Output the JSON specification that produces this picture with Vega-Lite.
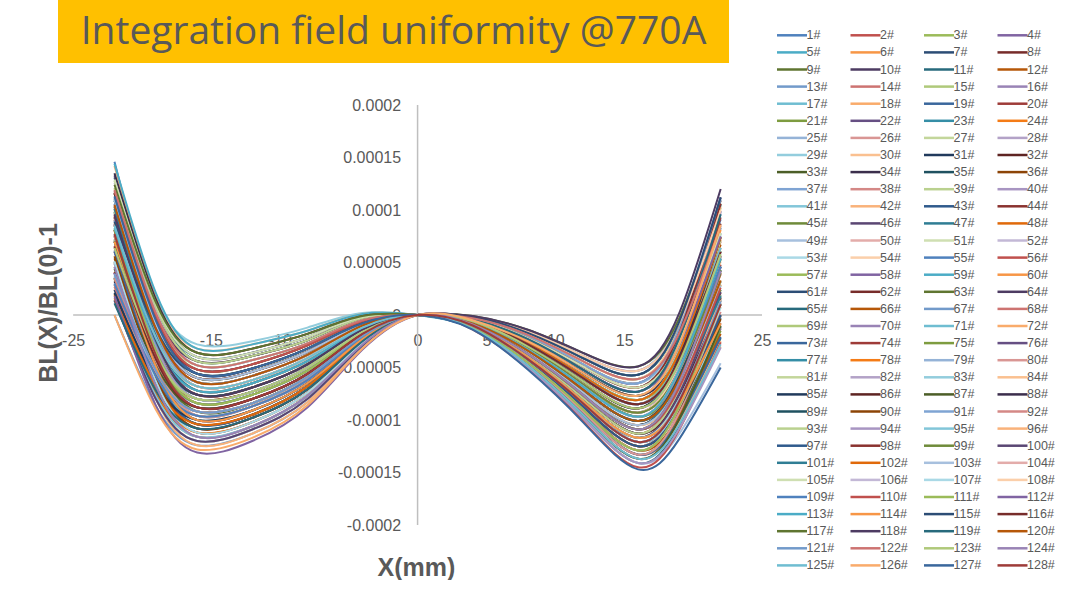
{
"$schema": "https://vega.github.io/schema/vega-lite/v6.json",
"padding": {"left": 36, "top": 0, "right": 0, "bottom": 0},
"background": "white",
"config": {"view": {"stroke": null}, "font": "Liberation Sans"},
"bounds": "flush",
"spacing": 42,
"vconcat": [
{
"width": 671, "height": 63,
"view": {"fill": "#FFC000", "stroke": null},
"data": {"values": [{"t": "Integration field uniformity @770A"}]},
"mark": {"type": "text", "font": "Open Sans", "fontSize": 39, "color": "#595959", "baseline": "middle", "align": "center"},
"encoding": {"text": {"field": "t", "type": "nominal"}}
},
{
"width": 704, "height": 420,
"layer": [
{"data": {"values": [{}]}, "mark": {"type": "rule", "color": "#BFBFBF", "strokeWidth": 1.5}, "encoding": {"x": {"datum": -25, "type": "quantitative"}, "x2": {"datum": 25}, "y": {"datum": 0, "type": "quantitative"}}},
{"data": {"values": [{}]}, "mark": {"type": "rule", "color": "#BFBFBF", "strokeWidth": 1.5}, "encoding": {"x": {"datum": 0, "type": "quantitative"}, "y": {"datum": -0.0002, "type": "quantitative"}, "y2": {"datum": 0.0002}}},
{
"data": {"values": [
{"s":"1#","x":[-22,-19,-16,-12,-8,-4,0,4,8,12,16,19,22],"y":[146e-6,5e-6,-56e-6,-51e-6,-32e-6,-8e-6,0,-3e-6,-19e-6,-44e-6,-61e-6,-15e-6,91e-6]},
{"s":"2#","x":[-22,-19,-16,-12,-8,-4,0,4,8,12,16,19,22],"y":[60e-6,-35e-6,-76e-6,-69e-6,-47e-6,-14e-6,0,-6e-6,-30e-6,-63e-6,-89e-6,-41e-6,70e-6]},
{"s":"3#","x":[-22,-19,-16,-12,-8,-4,0,4,8,12,16,19,22],"y":[46e-6,-59e-6,-104e-6,-95e-6,-68e-6,-24e-6,0,-9e-6,-39e-6,-79e-6,-113e-6,-75e-6,14e-6]},
{"s":"4#","x":[-22,-19,-16,-12,-8,-4,0,4,8,12,16,19,22],"y":[90e-6,-15e-6,-60e-6,-54e-6,-35e-6,-9e-6,0,-13e-6,-48e-6,-95e-6,-137e-6,-100e-6,-13e-6]},
{"s":"5#","x":[-22,-19,-16,-12,-8,-4,0,4,8,12,16,19,22],"y":[77e-6,-41e-6,-92e-6,-84e-6,-59e-6,-20e-6,0,-5e-6,-26e-6,-58e-6,-81e-6,-41e-6,53e-6]},
{"s":"6#","x":[-22,-19,-16,-12,-8,-4,0,4,8,12,16,19,22],"y":[116e-6,4e-6,-44e-6,-39e-6,-24e-6,-3e-6,0,-8e-6,-34e-6,-71e-6,-101e-6,-59e-6,39e-6]},
{"s":"7#","x":[-22,-19,-16,-12,-8,-4,0,4,8,12,16,19,22],"y":[50e-6,-41e-6,-80e-6,-73e-6,-50e-6,-16e-6,0,-11e-6,-43e-6,-87e-6,-125e-6,-83e-6,16e-6]},
{"s":"8#","x":[-22,-19,-16,-12,-8,-4,0,4,8,12,16,19,22],"y":[40e-6,-66e-6,-112e-6,-102e-6,-74e-6,-27e-6,0,-3e-6,-20e-6,-47e-6,-65e-6,-19e-6,87e-6]},
{"s":"9#","x":[-22,-19,-16,-12,-8,-4,0,4,8,12,16,19,22],"y":[103e-6,-17e-6,-68e-6,-62e-6,-41e-6,-12e-6,0,-7e-6,-31e-6,-66e-6,-93e-6,-47e-6,61e-6]},
{"s":"10#","x":[-22,-19,-16,-12,-8,-4,0,4,8,12,16,19,22],"y":[40e-6,-55e-6,-96e-6,-87e-6,-62e-6,-21e-6,0,-9e-6,-39e-6,-79e-6,-113e-6,-79e-6,-1e-6]},
{"s":"11#","x":[-22,-19,-16,-12,-8,-4,0,4,8,12,16,19,22],"y":[109e-6,-4e-6,-52e-6,-47e-6,-29e-6,-6e-6,0,-13e-6,-50e-6,-98e-6,-141e-6,-105e-6,-22e-6]},
{"s":"12#","x":[-22,-19,-16,-12,-8,-4,0,4,8,12,16,19,22],"y":[91e-6,-32e-6,-84e-6,-76e-6,-53e-6,-17e-6,0,-5e-6,-26e-6,-58e-6,-81e-6,-37e-6,67e-6]},
{"s":"13#","x":[-22,-19,-16,-12,-8,-4,0,4,8,12,16,19,22],"y":[0,-87e-6,-124e-6,-113e-6,-83e-6,-31e-6,0,-8e-6,-36e-6,-74e-6,-105e-6,-60e-6,46e-6]},
{"s":"14#","x":[-22,-19,-16,-12,-8,-4,0,4,8,12,16,19,22],"y":[86e-6,-25e-6,-72e-6,-65e-6,-44e-6,-13e-6,0,-11e-6,-43e-6,-87e-6,-125e-6,-91e-6,-12e-6]},
{"s":"15#","x":[-22,-19,-16,-12,-8,-4,0,4,8,12,16,19,22],"y":[35e-6,-62e-6,-104e-6,-95e-6,-68e-6,-24e-6,0,-4e-6,-22e-6,-49e-6,-69e-6,-18e-6,102e-6]},
{"s":"16#","x":[-22,-19,-16,-12,-8,-4,0,4,8,12,16,19,22],"y":[116e-6,-7e-6,-60e-6,-54e-6,-35e-6,-9e-6,0,-7e-6,-31e-6,-66e-6,-93e-6,-51e-6,46e-6]},
{"s":"17#","x":[-22,-19,-16,-12,-8,-4,0,4,8,12,16,19,22],"y":[37e-6,-50e-6,-88e-6,-80e-6,-56e-6,-18e-6,0,-10e-6,-40e-6,-82e-6,-117e-6,-76e-6,19e-6]},
{"s":"18#","x":[-22,-19,-16,-12,-8,-4,0,4,8,12,16,19,22],"y":[142e-6,17e-6,-36e-6,-32e-6,-18e-6,-1e-6,0,-12e-6,-47e-6,-92e-6,-133e-6,-102e-6,-30e-6]},
{"s":"19#","x":[-22,-19,-16,-12,-8,-4,0,4,8,12,16,19,22],"y":[60e-6,-35e-6,-76e-6,-69e-6,-47e-6,-14e-6,0,-6e-6,-28e-6,-60e-6,-85e-6,-40e-6,64e-6]},
{"s":"20#","x":[-22,-19,-16,-12,-8,-4,0,4,8,12,16,19,22],"y":[41e-6,-63e-6,-108e-6,-98e-6,-71e-6,-25e-6,0,-8e-6,-36e-6,-74e-6,-105e-6,-59e-6,48e-6]},
{"s":"21#","x":[-22,-19,-16,-12,-8,-4,0,4,8,12,16,19,22],"y":[85e-6,-19e-6,-64e-6,-58e-6,-38e-6,-10e-6,0,-12e-6,-45e-6,-90e-6,-129e-6,-95e-6,-15e-6]},
{"s":"22#","x":[-22,-19,-16,-12,-8,-4,0,4,8,12,16,19,22],"y":[72e-6,-46e-6,-96e-6,-87e-6,-62e-6,-21e-6,0,-4e-6,-22e-6,-49e-6,-69e-6,-19e-6,99e-6]},
{"s":"23#","x":[-22,-19,-16,-12,-8,-4,0,4,8,12,16,19,22],"y":[111e-6,0,-48e-6,-43e-6,-27e-6,-5e-6,0,-7e-6,-33e-6,-68e-6,-97e-6,-61e-6,24e-6]},
{"s":"24#","x":[-22,-19,-16,-12,-8,-4,0,4,8,12,16,19,22],"y":[50e-6,-41e-6,-80e-6,-73e-6,-50e-6,-16e-6,0,-10e-6,-40e-6,-82e-6,-117e-6,-77e-6,16e-6]},
{"s":"25#","x":[-22,-19,-16,-12,-8,-4,0,4,8,12,16,19,22],"y":[35e-6,-71e-6,-116e-6,-106e-6,-77e-6,-28e-6,0,-2e-6,-16e-6,-39e-6,-53e-6,-4e-6,112e-6]},
{"s":"26#","x":[-22,-19,-16,-12,-8,-4,0,4,8,12,16,19,22],"y":[103e-6,-17e-6,-68e-6,-62e-6,-41e-6,-12e-6,0,-6e-6,-28e-6,-60e-6,-85e-6,-36e-6,78e-6]},
{"s":"27#","x":[-22,-19,-16,-12,-8,-4,0,4,8,12,16,19,22],"y":[34e-6,-60e-6,-100e-6,-91e-6,-65e-6,-23e-6,0,-9e-6,-37e-6,-76e-6,-109e-6,-72e-6,14e-6]},
{"s":"28#","x":[-22,-19,-16,-12,-8,-4,0,4,8,12,16,19,22],"y":[62e-6,-43e-6,-88e-6,-80e-6,-56e-6,-18e-6,0,-12e-6,-47e-6,-92e-6,-133e-6,-93e-6,0]},
{"s":"29#","x":[-22,-19,-16,-12,-8,-4,0,4,8,12,16,19,22],"y":[112e-6,14e-6,-28e-6,-25e-6,-12e-6,2e-6,0,-4e-6,-23e-6,-52e-6,-73e-6,-28e-6,78e-6]},
{"s":"30#","x":[-22,-19,-16,-12,-8,-4,0,4,8,12,16,19,22],"y":[120e-6,14e-6,-32e-6,-28e-6,-15e-6,1e-6,0,-7e-6,-33e-6,-68e-6,-97e-6,-53e-6,51e-6]},
{"s":"31#","x":[-22,-19,-16,-12,-8,-4,0,4,8,12,16,19,22],"y":[81e-6,-29e-6,-76e-6,-69e-6,-47e-6,-14e-6,0,-10e-6,-42e-6,-84e-6,-121e-6,-88e-6,-11e-6]},
{"s":"32#","x":[-22,-19,-16,-12,-8,-4,0,4,8,12,16,19,22],"y":[35e-6,-62e-6,-104e-6,-95e-6,-68e-6,-24e-6,0,-2e-6,-17e-6,-41e-6,-57e-6,-7e-6,109e-6]},
{"s":"33#","x":[-22,-19,-16,-12,-8,-4,0,4,8,12,16,19,22],"y":[116e-6,-7e-6,-60e-6,-54e-6,-35e-6,-9e-6,0,-6e-6,-30e-6,-63e-6,-89e-6,-40e-6,74e-6]},
{"s":"34#","x":[-22,-19,-16,-12,-8,-4,0,4,8,12,16,19,22],"y":[32e-6,-55e-6,-92e-6,-84e-6,-59e-6,-20e-6,0,-9e-6,-37e-6,-76e-6,-109e-6,-71e-6,17e-6]},
{"s":"35#","x":[-22,-19,-16,-12,-8,-4,0,4,8,12,16,19,22],"y":[131e-6,9e-6,-44e-6,-39e-6,-24e-6,-3e-6,0,-12e-6,-47e-6,-92e-6,-133e-6,-94e-6,-3e-6]},
{"s":"36#","x":[-22,-19,-16,-12,-8,-4,0,4,8,12,16,19,22],"y":[54e-6,-40e-6,-80e-6,-73e-6,-50e-6,-16e-6,0,-5e-6,-25e-6,-55e-6,-77e-6,-37e-6,56e-6]},
{"s":"37#","x":[-22,-19,-16,-12,-8,-4,0,4,8,12,16,19,22],"y":[36e-6,-68e-6,-112e-6,-102e-6,-74e-6,-27e-6,0,-8e-6,-34e-6,-71e-6,-101e-6,-58e-6,42e-6]},
{"s":"38#","x":[-22,-19,-16,-12,-8,-4,0,4,8,12,16,19,22],"y":[80e-6,-24e-6,-68e-6,-62e-6,-41e-6,-12e-6,0,-10e-6,-42e-6,-84e-6,-121e-6,-84e-6,3e-6]},
{"s":"39#","x":[-22,-19,-16,-12,-8,-4,0,4,8,12,16,19,22],"y":[72e-6,-46e-6,-96e-6,-87e-6,-62e-6,-21e-6,0,-3e-6,-19e-6,-44e-6,-61e-6,-12e-6,104e-6]},
{"s":"40#","x":[-22,-19,-16,-12,-8,-4,0,4,8,12,16,19,22],"y":[106e-6,-5e-6,-52e-6,-47e-6,-29e-6,-6e-6,0,-6e-6,-30e-6,-63e-6,-89e-6,-49e-6,46e-6]},
{"s":"41#","x":[-22,-19,-16,-12,-8,-4,0,4,8,12,16,19,22],"y":[45e-6,-45e-6,-84e-6,-76e-6,-53e-6,-17e-6,0,-9e-6,-39e-6,-79e-6,-113e-6,-70e-6,32e-6]},
{"s":"42#","x":[-22,-19,-16,-12,-8,-4,0,4,8,12,16,19,22],"y":[24e-6,-80e-6,-124e-6,-113e-6,-83e-6,-31e-6,0,-13e-6,-48e-6,-95e-6,-137e-6,-103e-6,-25e-6]},
{"s":"43#","x":[-22,-19,-16,-12,-8,-4,0,4,8,12,16,19,22],"y":[98e-6,-21e-6,-72e-6,-65e-6,-44e-6,-13e-6,0,-5e-6,-25e-6,-55e-6,-77e-6,-29e-6,83e-6]},
{"s":"44#","x":[-22,-19,-16,-12,-8,-4,0,4,8,12,16,19,22],"y":[29e-6,-64e-6,-104e-6,-95e-6,-68e-6,-24e-6,0,-8e-6,-34e-6,-71e-6,-101e-6,-64e-6,21e-6]},
{"s":"45#","x":[-22,-19,-16,-12,-8,-4,0,4,8,12,16,19,22],"y":[98e-6,-13e-6,-60e-6,-54e-6,-35e-6,-9e-6,0,-11e-6,-43e-6,-87e-6,-125e-6,-88e-6,0]},
{"s":"46#","x":[-22,-19,-16,-12,-8,-4,0,4,8,12,16,19,22],"y":[86e-6,-36e-6,-88e-6,-80e-6,-56e-6,-18e-6,0,-3e-6,-20e-6,-47e-6,-65e-6,-12e-6,112e-6]},
{"s":"47#","x":[-22,-19,-16,-12,-8,-4,0,4,8,12,16,19,22],"y":[109e-6,5e-6,-40e-6,-36e-6,-21e-6,-2e-6,0,-7e-6,-31e-6,-66e-6,-93e-6,-52e-6,43e-6]},
{"s":"48#","x":[-22,-19,-16,-12,-8,-4,0,4,8,12,16,19,22],"y":[81e-6,-29e-6,-76e-6,-69e-6,-47e-6,-14e-6,0,-9e-6,-39e-6,-79e-6,-113e-6,-70e-6,29e-6]},
{"s":"49#","x":[-22,-19,-16,-12,-8,-4,0,4,8,12,16,19,22],"y":[30e-6,-67e-6,-108e-6,-98e-6,-71e-6,-25e-6,0,-13e-6,-50e-6,-98e-6,-141e-6,-113e-6,-46e-6]},
{"s":"50#","x":[-22,-19,-16,-12,-8,-4,0,4,8,12,16,19,22],"y":[111e-6,-12e-6,-64e-6,-58e-6,-38e-6,-10e-6,0,-5e-6,-26e-6,-58e-6,-81e-6,-35e-6,74e-6]},
{"s":"51#","x":[-22,-19,-16,-12,-8,-4,0,4,8,12,16,19,22],"y":[27e-6,-59e-6,-96e-6,-87e-6,-62e-6,-21e-6,0,-8e-6,-36e-6,-74e-6,-105e-6,-65e-6,28e-6]},
{"s":"52#","x":[-22,-19,-16,-12,-8,-4,0,4,8,12,16,19,22],"y":[126e-6,4e-6,-48e-6,-43e-6,-27e-6,-5e-6,0,-11e-6,-43e-6,-87e-6,-125e-6,-83e-6,14e-6]},
{"s":"53#","x":[-22,-19,-16,-12,-8,-4,0,4,8,12,16,19,22],"y":[49e-6,-44e-6,-84e-6,-76e-6,-53e-6,-17e-6,0,-3e-6,-20e-6,-47e-6,-65e-6,-20e-6,84e-6]},
{"s":"54#","x":[-22,-19,-16,-12,-8,-4,0,4,8,12,16,19,22],"y":[25e-6,-77e-6,-120e-6,-109e-6,-80e-6,-29e-6,0,-7e-6,-31e-6,-66e-6,-93e-6,-46e-6,64e-6]},
{"s":"55#","x":[-22,-19,-16,-12,-8,-4,0,4,8,12,16,19,22],"y":[75e-6,-28e-6,-72e-6,-65e-6,-44e-6,-13e-6,0,-9e-6,-39e-6,-79e-6,-113e-6,-75e-6,14e-6]},
{"s":"56#","x":[-22,-19,-16,-12,-8,-4,0,4,8,12,16,19,22],"y":[66e-6,-50e-6,-100e-6,-91e-6,-65e-6,-23e-6,0,-14e-6,-51e-6,-101e-6,-145e-6,-109e-6,-26e-6]},
{"s":"57#","x":[-22,-19,-16,-12,-8,-4,0,4,8,12,16,19,22],"y":[101e-6,-9e-6,-56e-6,-51e-6,-32e-6,-8e-6,0,-5e-6,-26e-6,-58e-6,-81e-6,-41e-6,53e-6]},
{"s":"58#","x":[-22,-19,-16,-12,-8,-4,0,4,8,12,16,19,22],"y":[40e-6,-50e-6,-88e-6,-80e-6,-56e-6,-18e-6,0,-8e-6,-36e-6,-74e-6,-105e-6,-64e-6,32e-6]},
{"s":"59#","x":[-22,-19,-16,-12,-8,-4,0,4,8,12,16,19,22],"y":[144e-6,21e-6,-32e-6,-28e-6,-15e-6,1e-6,0,-12e-6,-45e-6,-90e-6,-129e-6,-87e-6,10e-6]},
{"s":"60#","x":[-22,-19,-16,-12,-8,-4,0,4,8,12,16,19,22],"y":[93e-6,-25e-6,-76e-6,-69e-6,-47e-6,-14e-6,0,-4e-6,-22e-6,-49e-6,-69e-6,-24e-6,81e-6]},
{"s":"61#","x":[-22,-19,-16,-12,-8,-4,0,4,8,12,16,19,22],"y":[24e-6,-68e-6,-108e-6,-98e-6,-71e-6,-25e-6,0,-7e-6,-33e-6,-68e-6,-97e-6,-52e-6,54e-6]},
{"s":"62#","x":[-22,-19,-16,-12,-8,-4,0,4,8,12,16,19,22],"y":[93e-6,-17e-6,-64e-6,-58e-6,-38e-6,-10e-6,0,-10e-6,-40e-6,-82e-6,-117e-6,-84e-6,-8e-6]},
{"s":"63#","x":[-22,-19,-16,-12,-8,-4,0,4,8,12,16,19,22],"y":[81e-6,-40e-6,-92e-6,-84e-6,-59e-6,-20e-6,0,-1e-6,-14e-6,-36e-6,-49e-6,-3e-6,106e-6]},
{"s":"64#","x":[-22,-19,-16,-12,-8,-4,0,4,8,12,16,19,22],"y":[104e-6,0,-44e-6,-39e-6,-24e-6,-3e-6,0,-6e-6,-28e-6,-60e-6,-85e-6,-42e-6,60e-6]},
{"s":"65#","x":[-22,-19,-16,-12,-8,-4,0,4,8,12,16,19,22],"y":[75e-6,-34e-6,-80e-6,-73e-6,-50e-6,-16e-6,0,-8e-6,-36e-6,-74e-6,-105e-6,-60e-6,46e-6]},
{"s":"66#","x":[-22,-19,-16,-12,-8,-4,0,4,8,12,16,19,22],"y":[20e-6,-75e-6,-116e-6,-106e-6,-77e-6,-28e-6,0,-12e-6,-45e-6,-90e-6,-129e-6,-96e-6,-18e-6]},
{"s":"67#","x":[-22,-19,-16,-12,-8,-4,0,4,8,12,16,19,22],"y":[106e-6,-16e-6,-68e-6,-62e-6,-41e-6,-12e-6,0,-4e-6,-23e-6,-52e-6,-73e-6,-22e-6,96e-6]},
{"s":"68#","x":[-22,-19,-16,-12,-8,-4,0,4,8,12,16,19,22],"y":[27e-6,-59e-6,-96e-6,-87e-6,-62e-6,-21e-6,0,-7e-6,-33e-6,-68e-6,-97e-6,-56e-6,39e-6]},
{"s":"69#","x":[-22,-19,-16,-12,-8,-4,0,4,8,12,16,19,22],"y":[121e-6,0,-52e-6,-47e-6,-29e-6,-6e-6,0,-10e-6,-40e-6,-82e-6,-117e-6,-76e-6,19e-6]},
{"s":"70#","x":[-22,-19,-16,-12,-8,-4,0,4,8,12,16,19,22],"y":[49e-6,-44e-6,-84e-6,-76e-6,-53e-6,-17e-6,0,-2e-6,-16e-6,-39e-6,-53e-6,-8e-6,98e-6]},
{"s":"71#","x":[-22,-19,-16,-12,-8,-4,0,4,8,12,16,19,22],"y":[51e-6,-55e-6,-100e-6,-91e-6,-65e-6,-23e-6,0,-6e-6,-28e-6,-60e-6,-85e-6,-40e-6,64e-6]},
{"s":"72#","x":[-22,-19,-16,-12,-8,-4,0,4,8,12,16,19,22],"y":[75e-6,-28e-6,-72e-6,-65e-6,-44e-6,-13e-6,0,-9e-6,-37e-6,-76e-6,-109e-6,-64e-6,42e-6]},
{"s":"73#","x":[-22,-19,-16,-12,-8,-4,0,4,8,12,16,19,22],"y":[61e-6,-55e-6,-104e-6,-95e-6,-68e-6,-24e-6,0,-12e-6,-47e-6,-92e-6,-133e-6,-99e-6,-21e-6]},
{"s":"74#","x":[-22,-19,-16,-12,-8,-4,0,4,8,12,16,19,22],"y":[95e-6,-14e-6,-60e-6,-54e-6,-35e-6,-9e-6,0,-4e-6,-23e-6,-52e-6,-73e-6,-23e-6,93e-6]},
{"s":"75#","x":[-22,-19,-16,-12,-8,-4,0,4,8,12,16,19,22],"y":[35e-6,-54e-6,-92e-6,-84e-6,-59e-6,-20e-6,0,-7e-6,-33e-6,-68e-6,-97e-6,-61e-6,24e-6]},
{"s":"76#","x":[-22,-19,-16,-12,-8,-4,0,4,8,12,16,19,22],"y":[133e-6,12e-6,-40e-6,-36e-6,-21e-6,-2e-6,0,-10e-6,-42e-6,-84e-6,-121e-6,-82e-6,10e-6]},
{"s":"77#","x":[-22,-19,-16,-12,-8,-4,0,4,8,12,16,19,22],"y":[87e-6,-30e-6,-80e-6,-73e-6,-50e-6,-16e-6,0,-2e-6,-17e-6,-41e-6,-57e-6,-8e-6,105e-6]},
{"s":"78#","x":[-22,-19,-16,-12,-8,-4,0,4,8,12,16,19,22],"y":[19e-6,-73e-6,-112e-6,-102e-6,-74e-6,-27e-6,0,-6e-6,-30e-6,-63e-6,-89e-6,-41e-6,72e-6]},
{"s":"79#","x":[-22,-19,-16,-12,-8,-4,0,4,8,12,16,19,22],"y":[93e-6,-17e-6,-64e-6,-58e-6,-38e-6,-10e-6,0,-9e-6,-37e-6,-76e-6,-109e-6,-72e-6,14e-6]},
{"s":"80#","x":[-22,-19,-16,-12,-8,-4,0,4,8,12,16,19,22],"y":[76e-6,-44e-6,-96e-6,-87e-6,-62e-6,-21e-6,0,-12e-6,-47e-6,-92e-6,-133e-6,-93e-6,0]},
{"s":"81#","x":[-22,-19,-16,-12,-8,-4,0,4,8,12,16,19,22],"y":[99e-6,-4e-6,-48e-6,-43e-6,-27e-6,-5e-6,0,-5e-6,-25e-6,-55e-6,-77e-6,-33e-6,71e-6]},
{"s":"82#","x":[-22,-19,-16,-12,-8,-4,0,4,8,12,16,19,22],"y":[70e-6,-38e-6,-84e-6,-76e-6,-53e-6,-17e-6,0,-8e-6,-34e-6,-71e-6,-101e-6,-57e-6,45e-6]},
{"s":"83#","x":[-22,-19,-16,-12,-8,-4,0,4,8,12,16,19,22],"y":[14e-6,-80e-6,-120e-6,-109e-6,-80e-6,-29e-6,0,-10e-6,-42e-6,-84e-6,-121e-6,-88e-6,-11e-6]},
{"s":"84#","x":[-22,-19,-16,-12,-8,-4,0,4,8,12,16,19,22],"y":[101e-6,-20e-6,-72e-6,-65e-6,-44e-6,-13e-6,0,-3e-6,-19e-6,-44e-6,-61e-6,-12e-6,103e-6]},
{"s":"85#","x":[-22,-19,-16,-12,-8,-4,0,4,8,12,16,19,22],"y":[21e-6,-64e-6,-100e-6,-91e-6,-65e-6,-23e-6,0,-6e-6,-30e-6,-63e-6,-89e-6,-40e-6,74e-6]},
{"s":"86#","x":[-22,-19,-16,-12,-8,-4,0,4,8,12,16,19,22],"y":[116e-6,-4e-6,-56e-6,-51e-6,-32e-6,-8e-6,0,-9e-6,-39e-6,-79e-6,-113e-6,-76e-6,11e-6]},
{"s":"87#","x":[-22,-19,-16,-12,-8,-4,0,4,8,12,16,19,22],"y":[44e-6,-48e-6,-88e-6,-80e-6,-56e-6,-18e-6,0,-13e-6,-48e-6,-95e-6,-137e-6,-99e-6,-10e-6]},
{"s":"88#","x":[-22,-19,-16,-12,-8,-4,0,4,8,12,16,19,22],"y":[135e-6,15e-6,-36e-6,-32e-6,-18e-6,-1e-6,0,-5e-6,-25e-6,-55e-6,-77e-6,-37e-6,56e-6]},
{"s":"89#","x":[-22,-19,-16,-12,-8,-4,0,4,8,12,16,19,22],"y":[70e-6,-32e-6,-76e-6,-69e-6,-47e-6,-14e-6,0,-8e-6,-34e-6,-71e-6,-101e-6,-58e-6,42e-6]},
{"s":"90#","x":[-22,-19,-16,-12,-8,-4,0,4,8,12,16,19,22],"y":[56e-6,-59e-6,-108e-6,-98e-6,-71e-6,-25e-6,0,-11e-6,-43e-6,-87e-6,-125e-6,-89e-6,-4e-6]},
{"s":"91#","x":[-22,-19,-16,-12,-8,-4,0,4,8,12,16,19,22],"y":[90e-6,-18e-6,-64e-6,-58e-6,-38e-6,-10e-6,0,-3e-6,-20e-6,-47e-6,-65e-6,-13e-6,110e-6]},
{"s":"92#","x":[-22,-19,-16,-12,-8,-4,0,4,8,12,16,19,22],"y":[35e-6,-54e-6,-92e-6,-84e-6,-59e-6,-20e-6,0,-7e-6,-31e-6,-66e-6,-93e-6,-53e-6,40e-6]},
{"s":"93#","x":[-22,-19,-16,-12,-8,-4,0,4,8,12,16,19,22],"y":[128e-6,8e-6,-44e-6,-39e-6,-24e-6,-3e-6,0,-9e-6,-39e-6,-79e-6,-113e-6,-70e-6,32e-6]},
{"s":"94#","x":[-22,-19,-16,-12,-8,-4,0,4,8,12,16,19,22],"y":[87e-6,-30e-6,-80e-6,-73e-6,-50e-6,-16e-6,0,-13e-6,-50e-6,-98e-6,-141e-6,-108e-6,-31e-6]},
{"s":"95#","x":[-22,-19,-16,-12,-8,-4,0,4,8,12,16,19,22],"y":[14e-6,-77e-6,-116e-6,-106e-6,-77e-6,-28e-6,0,-5e-6,-26e-6,-58e-6,-81e-6,-34e-6,77e-6]},
{"s":"96#","x":[-22,-19,-16,-12,-8,-4,0,4,8,12,16,19,22],"y":[88e-6,-21e-6,-68e-6,-62e-6,-41e-6,-12e-6,0,-8e-6,-36e-6,-74e-6,-105e-6,-69e-6,14e-6]},
{"s":"97#","x":[-22,-19,-16,-12,-8,-4,0,4,8,12,16,19,22],"y":[70e-6,-49e-6,-100e-6,-91e-6,-65e-6,-23e-6,0,-11e-6,-43e-6,-87e-6,-125e-6,-88e-6,0]},
{"s":"98#","x":[-22,-19,-16,-12,-8,-4,0,4,8,12,16,19,22],"y":[94e-6,-8e-6,-52e-6,-47e-6,-29e-6,-6e-6,0,-4e-6,-22e-6,-49e-6,-69e-6,-17e-6,106e-6]},
{"s":"99#","x":[-22,-19,-16,-12,-8,-4,0,4,8,12,16,19,22],"y":[70e-6,-38e-6,-84e-6,-76e-6,-53e-6,-17e-6,0,-7e-6,-31e-6,-66e-6,-93e-6,-52e-6,43e-6]},
{"s":"100#","x":[-22,-19,-16,-12,-8,-4,0,4,8,12,16,19,22],"y":[14e-6,-80e-6,-120e-6,-109e-6,-80e-6,-29e-6,0,-10e-6,-40e-6,-82e-6,-117e-6,-75e-6,22e-6]},
{"s":"101#","x":[-22,-19,-16,-12,-8,-4,0,4,8,12,16,19,22],"y":[101e-6,-20e-6,-72e-6,-65e-6,-44e-6,-13e-6,0,-8e-6,-34e-6,-71e-6,-101e-6,-65e-6,18e-6]},
{"s":"102#","x":[-22,-19,-16,-12,-8,-4,0,4,8,12,16,19,22],"y":[16e-6,-68e-6,-104e-6,-95e-6,-68e-6,-24e-6,0,-5e-6,-26e-6,-58e-6,-81e-6,-35e-6,74e-6]},
{"s":"103#","x":[-22,-19,-16,-12,-8,-4,0,4,8,12,16,19,22],"y":[110e-6,-9e-6,-60e-6,-54e-6,-35e-6,-9e-6,0,-8e-6,-36e-6,-74e-6,-105e-6,-65e-6,28e-6]},
{"s":"104#","x":[-22,-19,-16,-12,-8,-4,0,4,8,12,16,19,22],"y":[39e-6,-53e-6,-92e-6,-84e-6,-59e-6,-20e-6,0,-12e-6,-45e-6,-90e-6,-129e-6,-88e-6,8e-6]},
{"s":"105#","x":[-22,-19,-16,-12,-8,-4,0,4,8,12,16,19,22],"y":[129e-6,11e-6,-40e-6,-36e-6,-21e-6,-2e-6,0,-4e-6,-22e-6,-49e-6,-69e-6,-25e-6,78e-6]},
{"s":"106#","x":[-22,-19,-16,-12,-8,-4,0,4,8,12,16,19,22],"y":[64e-6,-37e-6,-80e-6,-73e-6,-50e-6,-16e-6,0,-7e-6,-33e-6,-68e-6,-97e-6,-51e-6,57e-6]},
{"s":"107#","x":[-22,-19,-16,-12,-8,-4,0,4,8,12,16,19,22],"y":[51e-6,-63e-6,-112e-6,-102e-6,-74e-6,-27e-6,0,-10e-6,-40e-6,-82e-6,-117e-6,-80e-6,7e-6]},
{"s":"108#","x":[-22,-19,-16,-12,-8,-4,0,4,8,12,16,19,22],"y":[85e-6,-22e-6,-68e-6,-62e-6,-41e-6,-12e-6,0,-2e-6,-16e-6,-39e-6,-53e-6,-7e-6,100e-6]},
{"s":"109#","x":[-22,-19,-16,-12,-8,-4,0,4,8,12,16,19,22],"y":[30e-6,-58e-6,-96e-6,-87e-6,-62e-6,-21e-6,0,-6e-6,-28e-6,-60e-6,-85e-6,-46e-6,46e-6]},
{"s":"110#","x":[-22,-19,-16,-12,-8,-4,0,4,8,12,16,19,22],"y":[118e-6,-1e-6,-52e-6,-47e-6,-29e-6,-6e-6,0,-9e-6,-37e-6,-76e-6,-109e-6,-69e-6,26e-6]},
{"s":"111#","x":[-22,-19,-16,-12,-8,-4,0,4,8,12,16,19,22],"y":[82e-6,-34e-6,-84e-6,-76e-6,-53e-6,-17e-6,0,-12e-6,-45e-6,-90e-6,-129e-6,-87e-6,10e-6]},
{"s":"112#","x":[-22,-19,-16,-12,-8,-4,0,4,8,12,16,19,22],"y":[18e-6,-86e-6,-131e-6,-120e-6,-88e-6,-33e-6,0,-4e-6,-23e-6,-52e-6,-73e-6,-29e-6,75e-6]},
{"s":"113#","x":[-22,-19,-16,-12,-8,-4,0,4,8,12,16,19,22],"y":[83e-6,-26e-6,-72e-6,-65e-6,-44e-6,-13e-6,0,-7e-6,-33e-6,-68e-6,-97e-6,-52e-6,54e-6]},
{"s":"114#","x":[-22,-19,-16,-12,-8,-4,0,4,8,12,16,19,22],"y":[70e-6,-49e-6,-100e-6,-91e-6,-65e-6,-23e-6,0,-10e-6,-40e-6,-82e-6,-117e-6,-84e-6,-8e-6]},
{"s":"115#","x":[-22,-19,-16,-12,-8,-4,0,4,8,12,16,19,22],"y":[89e-6,-13e-6,-56e-6,-51e-6,-32e-6,-8e-6,0,-2e-6,-17e-6,-41e-6,-57e-6,-6e-6,112e-6]},
{"s":"116#","x":[-22,-19,-16,-12,-8,-4,0,4,8,12,16,19,22],"y":[65e-6,-42e-6,-88e-6,-80e-6,-56e-6,-18e-6,0,-6e-6,-28e-6,-60e-6,-85e-6,-42e-6,60e-6]},
{"s":"117#","x":[-22,-19,-16,-12,-8,-4,0,4,8,12,16,19,22],"y":[124e-6,12e-6,-36e-6,-32e-6,-18e-6,-1e-6,0,-9e-6,-37e-6,-76e-6,-109e-6,-64e-6,40e-6]},
{"s":"118#","x":[-22,-19,-16,-12,-8,-4,0,4,8,12,16,19,22],"y":[96e-6,-24e-6,-76e-6,-69e-6,-47e-6,-14e-6,0,-1e-6,-14e-6,-36e-6,-49e-6,2e-6,120e-6]},
{"s":"119#","x":[-22,-19,-16,-12,-8,-4,0,4,8,12,16,19,22],"y":[11e-6,-72e-6,-108e-6,-98e-6,-71e-6,-25e-6,0,-4e-6,-23e-6,-52e-6,-73e-6,-22e-6,96e-6]},
{"s":"120#","x":[-22,-19,-16,-12,-8,-4,0,4,8,12,16,19,22],"y":[105e-6,-13e-6,-64e-6,-58e-6,-38e-6,-10e-6,0,-8e-6,-34e-6,-71e-6,-101e-6,-61e-6,33e-6]},
{"s":"121#","x":[-22,-19,-16,-12,-8,-4,0,4,8,12,16,19,22],"y":[39e-6,-53e-6,-92e-6,-84e-6,-59e-6,-20e-6,0,-10e-6,-42e-6,-84e-6,-121e-6,-81e-6,13e-6]},
{"s":"122#","x":[-22,-19,-16,-12,-8,-4,0,4,8,12,16,19,22],"y":[119e-6,2e-6,-48e-6,-43e-6,-27e-6,-5e-6,0,-3e-6,-19e-6,-44e-6,-61e-6,-17e-6,85e-6]},
{"s":"123#","x":[-22,-19,-16,-12,-8,-4,0,4,8,12,16,19,22],"y":[64e-6,-37e-6,-80e-6,-73e-6,-50e-6,-16e-6,0,-6e-6,-30e-6,-63e-6,-89e-6,-45e-6,58e-6]},
{"s":"124#","x":[-22,-19,-16,-12,-8,-4,0,4,8,12,16,19,22],"y":[46e-6,-67e-6,-116e-6,-106e-6,-77e-6,-28e-6,0,-9e-6,-37e-6,-76e-6,-109e-6,-64e-6,42e-6]},
{"s":"125#","x":[-22,-19,-16,-12,-8,-4,0,4,8,12,16,19,22],"y":[85e-6,-22e-6,-68e-6,-62e-6,-41e-6,-12e-6,0,-13e-6,-48e-6,-95e-6,-137e-6,-104e-6,-28e-6]},
{"s":"126#","x":[-22,-19,-16,-12,-8,-4,0,4,8,12,16,19,22],"y":[0,-90e-6,-128e-6,-117e-6,-86e-6,-32e-6,0,-5e-6,-25e-6,-55e-6,-77e-6,-28e-6,86e-6]},
{"s":"127#","x":[-22,-19,-16,-12,-8,-4,0,4,8,12,16,19,22],"y":[113e-6,-5e-6,-56e-6,-51e-6,-32e-6,-8e-6,0,-14e-6,-52e-6,-102e-6,-147e-6,-118e-6,-50e-6]},
{"s":"128#","x":[-22,-19,-16,-12,-8,-4,0,4,8,12,16,19,22],"y":[77e-6,-38e-6,-88e-6,-80e-6,-56e-6,-18e-6,0,-10e-6,-42e-6,-84e-6,-121e-6,-82e-6,10e-6]}
]},
"transform": [{"flatten": ["x", "y"]}],
"mark": {"type": "line", "interpolate": "natural", "strokeWidth": 2},
"encoding": {
"x": {"field": "x", "type": "quantitative", "scale": {"domain": [-26.1, 25], "nice": false, "zero": false},
 "axis": {"values": [-25,-20,-15,-10,-5,0,5,10,15,20,25], "offset": -210, "domain": false, "ticks": false, "tickSize": 0, "grid": false, "labelExpr": "'' + datum.value", "labelFont": "Liberation Sans", "labelFontSize": 16, "labelColor": "#595959", "labelPadding": 17, "labelFlush": false, "labelOverlap": false, "labelBaseline": "top", "title": "X(mm)", "titleFont": "Liberation Sans", "titleFontSize": 25, "titleFontWeight": "bold", "titleColor": "#595959", "titleX": 358, "titleY": 252, "titleBaseline": "middle", "titleAlign": "center"}},
"y": {"field": "y", "type": "quantitative", "scale": {"domain": [-0.0002, 0.0002], "nice": false, "zero": false},
 "axis": {"values": [-0.0002,-0.00015,-0.0001,-0.00005,0,0.00005,0.0001,0.00015,0.0002], "offset": -359.6, "domain": false, "ticks": false, "tickSize": 0, "grid": false, "labelExpr": "'' + datum.value", "labelFont": "Liberation Sans", "labelFontSize": 16, "labelColor": "#595959", "labelPadding": 17, "labelOverlap": false, "labelFlush": false, "title": "BL(X)/BL(0)-1", "titleFont": "Liberation Sans", "titleFontSize": 25, "titleFontWeight": "bold", "titleColor": "#595959", "titleX": -369, "titleY": 197.5, "titleAngle": -90, "titleBaseline": "middle", "titleAlign": "center"}},
"color": {"field": "s", "type": "nominal",
 "scale": {
  "domain": ["1#","2#","3#","4#","5#","6#","7#","8#","9#","10#","11#","12#","13#","14#","15#","16#","17#","18#","19#","20#","21#","22#","23#","24#","25#","26#","27#","28#","29#","30#","31#","32#","33#","34#","35#","36#","37#","38#","39#","40#","41#","42#","43#","44#","45#","46#","47#","48#","49#","50#","51#","52#","53#","54#","55#","56#","57#","58#","59#","60#","61#","62#","63#","64#","65#","66#","67#","68#","69#","70#","71#","72#","73#","74#","75#","76#","77#","78#","79#","80#","81#","82#","83#","84#","85#","86#","87#","88#","89#","90#","91#","92#","93#","94#","95#","96#","97#","98#","99#","100#","101#","102#","103#","104#","105#","106#","107#","108#","109#","110#","111#","112#","113#","114#","115#","116#","117#","118#","119#","120#","121#","122#","123#","124#","125#","126#","127#","128#"],
  "range": ["#4F81BD","#C0504D","#9BBB59","#8064A2","#4BACC6","#F79646","#2C4D75","#772C2A","#5F7530","#4D3B62","#276A7C","#B65708","#729ACA","#CD7371","#AFC97A","#9983B5","#6FBDD1","#F9AB6B","#3A679C","#9E3B38","#7E9C40","#664F83","#358EA6","#F47B16","#95B3D7","#D99694","#C3D69B","#B3A2C7","#93CDDD","#FAC090","#213A5C","#5E2422","#4C5E27","#3B2E4C","#1F5160","#8C4406","#7FA4D3","#D48886","#BAD18F","#A895C2","#82C6D9","#F9B27A","#2F5A8C","#8A322F","#6F8B3A","#5A4673","#2F7D94","#E0690A","#A7C0DE","#E3ACAA","#CFDFB2","#C3B8D6","#AAD9E6","#FBCFAA",
   "#4F81BD","#C0504D","#9BBB59","#8064A2","#4BACC6","#F79646","#2C4D75","#772C2A","#5F7530","#4D3B62","#276A7C","#B65708","#729ACA","#CD7371","#AFC97A","#9983B5","#6FBDD1","#F9AB6B","#3A679C","#9E3B38","#7E9C40","#664F83","#358EA6","#F47B16","#95B3D7","#D99694","#C3D69B","#B3A2C7","#93CDDD","#FAC090","#213A5C","#5E2422","#4C5E27","#3B2E4C","#1F5160","#8C4406","#7FA4D3","#D48886","#BAD18F","#A895C2","#82C6D9","#F9B27A","#2F5A8C","#8A322F","#6F8B3A","#5A4673","#2F7D94","#E0690A","#A7C0DE","#E3ACAA","#CFDFB2","#C3B8D6","#AAD9E6","#FBCFAA",
   "#4F81BD","#C0504D","#9BBB59","#8064A2","#4BACC6","#F79646","#2C4D75","#772C2A","#5F7530","#4D3B62","#276A7C","#B65708","#729ACA","#CD7371","#AFC97A","#9983B5","#6FBDD1","#F9AB6B","#3A679C","#9E3B38"]
 },
 "legend": {"orient": "none", "legendX": 719, "legendY": 28.8, "direction": "horizontal", "columns": 4, "title": null, "symbolType": "M-3,0H3", "symbolSize": 100, "symbolStrokeWidth": 2.5, "symbolOffset": 8.5, "labelOffset": 8, "labelAlign": "left", "labelFont": "Liberation Sans", "labelFontSize": 12.5, "labelColor": "#595959", "rowPadding": 4.1, "columnPadding": 10.5, "padding": 0, "symbolLimit": 200, "labelLimit": 60}}
}
}
]
}
]
}
